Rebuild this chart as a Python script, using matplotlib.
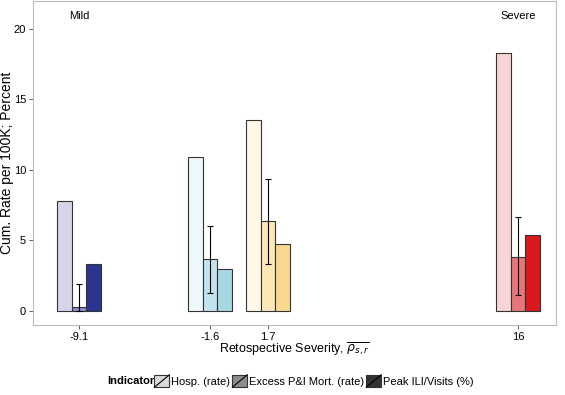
import numpy as np
import matplotlib
matplotlib.use('Agg')
from matplotlib import pyplot as plt
from matplotlib.patches import Rectangle
from matplotlib.lines import Line2D
from matplotlib.legend_handler import HandlerPatch

plt.rcParams['font.family'] = ['Liberation Sans', 'DejaVu Sans']

severity = [-9.1, -1.6, 1.7, 16]
tick_labels = ['-9.1', '-1.6', '1.7', '16']
indicators = ['Hosp. (rate)', 'Excess P&I Mort. (rate)', 'Peak ILI/Visits (%)']
hosp = [7.8, 10.9, 13.5, 18.3]
mort = [0.3, 3.7, 6.35, 3.85]
mort_lo = [0.0, 1.3, 3.3, 1.1]
mort_hi = [1.9, 6.05, 9.35, 6.65]
peak = [3.3, 2.95, 4.75, 5.35]

colors = [
    ['#d6d6ea', '#8c8cd0', '#2b3590'],
    ['#eef7fb', '#c2e3ee', '#a6d8e4'],
    ['#fff8e6', '#fde7b6', '#f8d98e'],
    ['#f8d4d4', '#e77579', '#d9191c'],
]

fig = plt.figure(figsize=(5.65, 3.95), dpi=100)
ax = fig.add_axes([33/565, 1-325/395, (556-33)/565, 324/395])

w = 2.5/3
vals = np.array([hosp, mort, peak])
for i, x in enumerate(severity):
    for j in range(3):
        xc = x + (j-1)*w
        ax.bar(xc, vals[j][i], width=w, color=colors[i][j], edgecolor='#333333', linewidth=0.8, zorder=2)
    ax.errorbar(x, mort[i], yerr=[[mort[i]-mort_lo[i]], [mort_hi[i]-mort[i]]],
                fmt='none', ecolor='black', elinewidth=0.8, capsize=2, capthick=0.8, zorder=3)

ax.text(-9.1, 20.9, 'Mild', ha='center', va='center', fontsize=8)
ax.text(16, 20.9, 'Severe', ha='center', va='center', fontsize=8)

ax.set_xlim(-11.73, 18.17)
ax.set_ylim(-0.99, 21.96)
ax.set_xticks(severity, tick_labels)
ax.set_yticks([0, 5, 10, 15, 20])
ax.tick_params(axis='both', direction='out', length=3, width=0.6, color='#444444', labelsize=8, pad=2)
for s in ax.spines.values():
    s.set_color('#bbbbbb')
    s.set_linewidth(0.8)
ax.set_ylabel('Cum. Rate per 100K; Percent', fontsize=10)
ax.yaxis.set_label_coords(-19/523, 0.5)
ax.set_xlabel(r'Retospective Severity, $\overline{\rho_{s,r}}$', fontsize=9)
ax.xaxis.set_label_coords(0.5, -16/324)


class SlashHandler(HandlerPatch):
    def create_artists(self, legend, orig, xdescent, ydescent, width, height, fontsize, trans):
        r = Rectangle((-xdescent, -ydescent), width, height, facecolor=orig.get_facecolor(),
                      edgecolor='#333333', linewidth=0.8, transform=trans)
        l = Line2D([-xdescent, -xdescent+width], [-ydescent, -ydescent+height], color='black',
                   linewidth=0.8, transform=trans)
        return [r, l]


handles = [Rectangle((0, 0), 1, 1, facecolor=c) for c in ['#d9d9d9', '#8c8c8c', '#333333']]
fig.legend(handles, indicators, loc='center', bbox_to_anchor=(314/565, 1-381/395), ncol=3,
           frameon=False, fontsize=8, handlelength=1.35, handleheight=1.35, handletextpad=0.15,
           columnspacing=0.2, borderpad=0, handler_map={Rectangle: SlashHandler()})
fig.text(154/565, 1-381/395, 'Indicator', ha='right', va='center', fontsize=8, fontweight='bold')

plt.savefig('out.png', dpi=100)
